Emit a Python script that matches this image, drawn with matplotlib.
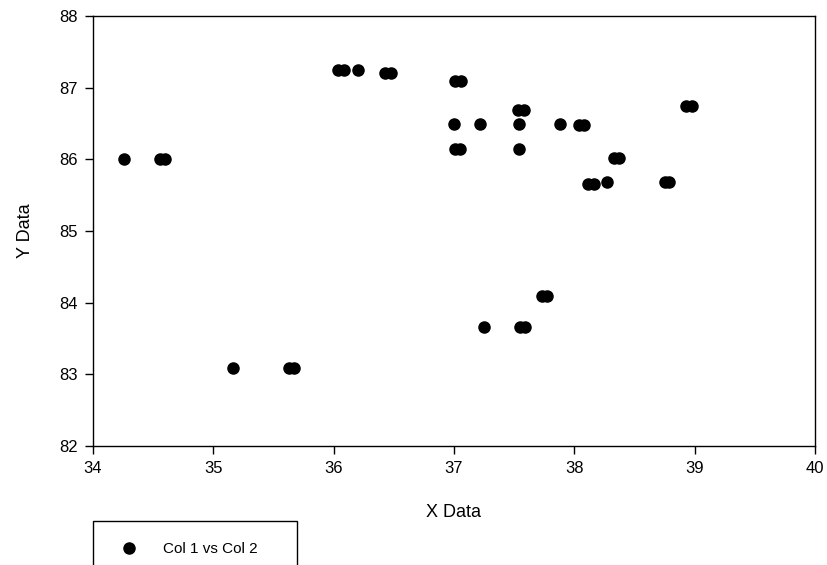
import matplotlib
matplotlib.use("Agg")
import matplotlib.pyplot as plt
from matplotlib.patches import Rectangle

plt.rcParams['font.family'] = ['Liberation Sans', 'DejaVu Sans']

# values (overlapping dots listed as separate points)
col1 = [34.26, 34.56, 34.60,
        35.16, 35.63, 35.67,
        36.04, 36.09, 36.20, 36.43, 36.48,
        37.01, 37.06, 37.53, 37.58,
        37.00, 37.22, 37.54, 37.88, 38.04, 38.08,
        37.01, 37.05, 37.54,
        38.33, 38.37, 38.93, 38.98,
        38.11, 38.16, 38.27, 38.75, 38.79,
        37.73, 37.77, 37.25, 37.55, 37.59]
col2 = [86.01, 86.01, 86.01,
        83.09, 83.09, 83.09,
        87.25, 87.25, 87.25, 87.20, 87.20,
        87.10, 87.10, 86.69, 86.69,
        86.50, 86.50, 86.50, 86.50, 86.48, 86.48,
        86.15, 86.15, 86.15,
        86.02, 86.02, 86.75, 86.75,
        85.66, 85.66, 85.69, 85.69, 85.69,
        84.10, 84.10, 83.66, 83.66, 83.66]

fig = plt.figure(figsize=(8.27, 5.65), dpi=100)
ax = fig.add_axes([93/827, 1-446/565, (815-93)/827, (446-16)/565])

ax.plot(col1, col2, 'o', color='black', markersize=8, linestyle='none',
        label='Col 1 vs Col 2')

ax.set_xlim(34, 40)
ax.set_ylim(82, 88)
ax.set_xticks(range(34, 41))
ax.set_yticks(range(82, 89))
ax.tick_params(direction='out', length=6, width=1, labelsize=12, pad=5)
for s in ax.spines.values():
    s.set_linewidth(1)

ax.set_xlabel('X Data', fontsize=13, labelpad=20)
ax.set_ylabel('Y Data', fontsize=13, labelpad=18)

# legend box sits under the axes and runs off the bottom edge
box = Rectangle((93/827, 1-600/565), (297-93)/827, (600-521)/565,
                transform=fig.transFigure, fill=False, edgecolor='black',
                linewidth=1, clip_on=False)
fig.patches.append(box)
ax.legend(loc='center left', bbox_to_anchor=(106/827, 1-549/565),
          bbox_transform=fig.transFigure, frameon=False, fontsize=11,
          handletextpad=1.6, handlelength=1.2)

plt.savefig('out.png', dpi=100)
